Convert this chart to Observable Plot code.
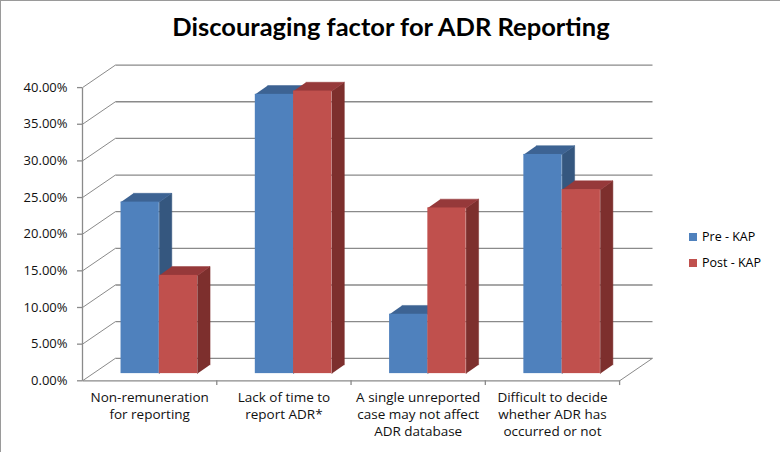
<!DOCTYPE html>
<html><head><meta charset="utf-8">
<script src="https://cdn.jsdelivr.net/npm/d3@7"></script>
<script src="https://cdn.jsdelivr.net/npm/@observablehq/plot@0.6"></script>
<style>
body{margin:0;background:#fff;}
#wrap{position:relative;width:780px;height:452px;overflow:hidden;background:#fff;}
#chart{position:absolute;left:0;top:0;}
#border{position:absolute;left:0;top:0;right:0;bottom:0;border-top:1px solid #9a9a9a;border-left:1px solid #9a9a9a;pointer-events:none;}
#title{position:absolute;left:0;top:13px;width:782px;text-align:center;font:bold 25.5px Lato,sans-serif;line-height:26px;color:#000;}
.lg{position:absolute;left:689px;font:12.5px "Open Sans",sans-serif;line-height:14px;color:#000;white-space:nowrap;}
.sw{display:inline-block;width:8px;height:8px;margin-right:5px;vertical-align:0px;}
</style></head><body>
<div id="wrap">
<div id="chart"></div>
<div id="title">Discouraging factor for ADR Reporting</div>
<div id="legend"></div>
<div id="border"></div>
</div>
<script>
// ---- data ----
const categories = ["Non-remuneration\nfor reporting", "Lack of time to\nreport ADR*", "A single unreported\ncase may not affect\nADR database", "Difficult to decide\nwhether ADR has\noccurred or not"];
const seriesNames = ["Pre - KAP", "Post - KAP"];
const preKAP = [23.4, 38.1, 8.1, 29.9];
const postKAP = [13.4, 38.55, 22.6, 25.1];
const yTicks = [0, 5, 10, 15, 20, 25, 30, 35, 40];

// ---- styling / projection constants ----
const frontColors = ["#4F81BD", "#C0504D"];
const sideColors = ["#35577f", "#7d2f2d"];
const topColors = ["#3d6393", "#96393a"];
const gridColor = "#8a8a8a";
const BW = 0.285, G0 = 0.215, DX = 0.072, DY = 0.98, SX = 0.093, SY = 1.2, BX = 0.245, BY = 3.07;
const n = categories.length;

const bars = [];
categories.forEach((c, i) => {
  [preKAP[i], postKAP[i]].forEach((v, k) => {
    const x1 = i + G0 + k * BW + DX;
    bars.push({i, k, v, x1, x2: x1 + BW, y1: DY, y2: v + DY});
  });
});
const sides = k => bars.filter(b => b.k === k).flatMap((b, j) => [
  {id: j, x: b.x2, y: b.y1}, {id: j, x: b.x2, y: b.y2},
  {id: j, x: b.x2 + SX, y: b.y2 + SY}, {id: j, x: b.x2 + SX, y: b.y1 + SY}]);
const tops = k => bars.filter(b => b.k === k).flatMap((b, j) => [
  {id: j, x: b.x1, y: b.y2}, {id: j, x: b.x2, y: b.y2},
  {id: j, x: b.x2 + SX, y: b.y2 + SY}, {id: j, x: b.x1 + SX, y: b.y2 + SY}]);

const fmt = d => d.toFixed(2) + "%";
const catIdx = d3.range(n);

const plot = Plot.plot({
  width: 780, height: 452,
  marginLeft: 82, marginRight: 128, marginTop: 64.6, marginBottom: 71.7,
  x: {type: "linear", domain: [0, n + BX], axis: null},
  y: {type: "linear", domain: [0, 40 + BY], axis: null},
  style: {fontFamily: "'Open Sans', sans-serif", fontSize: "12.5px", color: "#000", background: "#fff", overflow: "visible"},
  marks: [
    // back wall gridlines
    Plot.link(yTicks, {x1: BX, x2: n + BX, y1: d => d + BY, y2: d => d + BY, stroke: gridColor, strokeWidth: 1.3}),
    // side wall diagonals
    Plot.link(yTicks, {x1: 0, x2: BX, y1: d => d, y2: d => d + BY, stroke: gridColor, strokeWidth: 1}),
    // front axis line
    Plot.link([0], {x1: 0, x2: 0, y1: 0, y2: 40, stroke: gridColor, strokeWidth: 1.3}),
    // y ticks
    Plot.ruleY(yTicks, {y: d => d, x1: 0, x2: 0, insetLeft: -5, stroke: gridColor, strokeWidth: 1.3}),
    // floor
    Plot.link([0], {x1: 0, x2: n, y1: 0, y2: 0, stroke: gridColor, strokeWidth: 1.3}),
    Plot.link([0], {x1: n, x2: n + BX, y1: 0, y2: BY, stroke: gridColor, strokeWidth: 1}),
    // category ticks
    Plot.ruleX(d3.range(1, n + 1), {x: d => d, y1: 0, y2: -0.65, stroke: gridColor, strokeWidth: 1.3}),
    // bar side faces
    Plot.line(sides(0), {x: "x", y: "y", z: "id", fill: sideColors[0], stroke: sideColors[0], strokeWidth: 0.5}),
    Plot.line(sides(1), {x: "x", y: "y", z: "id", fill: sideColors[1], stroke: sideColors[1], strokeWidth: 0.5}),
    // bar top faces
    Plot.line(tops(0), {x: "x", y: "y", z: "id", fill: topColors[0], stroke: topColors[0], strokeWidth: 0.5}),
    Plot.line(tops(1), {x: "x", y: "y", z: "id", fill: topColors[1], stroke: topColors[1], strokeWidth: 0.5}),
    // bar front faces
    Plot.rect(bars, {x1: "x1", x2: "x2", y1: "y1", y2: "y2", fill: d => frontColors[d.k]}),
    // y tick labels
    Plot.text(yTicks, {x: 0, y: d => d, text: fmt, textAnchor: "end", dx: -15, fill: "#111", fontSize: 13}),
    // category labels
    Plot.text(catIdx, {x: d => d + 0.5, y: 0, text: d => categories[d], lineAnchor: "top", dy: 9.5, lineHeight: 1.25, fill: "#111", fontSize: 13.5})
  ]
});
document.getElementById("chart").appendChild(plot);

const legend = document.getElementById("legend");
seriesNames.forEach((s, k) => {
  const el = document.createElement("div");
  el.className = "lg";
  el.style.top = (230 + k * 26) + "px";
  el.innerHTML = `<span class="sw" style="background:${frontColors[k]}"></span>${s}`;
  legend.appendChild(el);
});
</script>
</body></html>
